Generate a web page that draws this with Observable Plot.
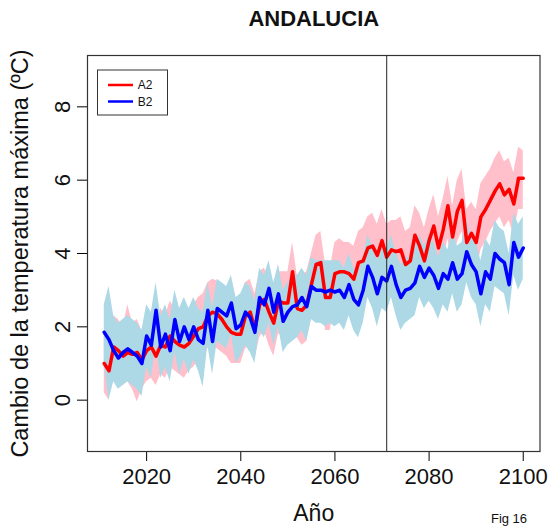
<!DOCTYPE html>
<html>
<head>
<meta charset="utf-8">
<script src="https://cdn.jsdelivr.net/npm/d3@7"></script>
<script src="https://cdn.jsdelivr.net/npm/@observablehq/plot@0.6"></script>
<style>
  html, body { margin: 0; padding: 0; background: #fff; }
  svg { font-family: "Liberation Sans", Arial, Helvetica, sans-serif; }
</style>
</head>
<body>
<div id="chart"></div>
<script>
const title = "ANDALUCIA";
const yLabel = "Cambio de la temperatura máxima (ºC)";
const xLabel = "Año";
const figLabel = "Fig 16";
const seriesNames = ["A2", "B2"];
const xTicks = [2020, 2040, 2060, 2080, 2100];
const yTicks = [0, 2, 4, 6, 8];
const refYear = 2071;
const years = d3.range(2011, 2101);

// A2 scenario (red line) and its range (pink band)
const a2 = [1.0,0.8,1.45,1.35,1.2,1.3,1.25,1.3,1.1,1.35,
  1.45,1.2,1.5,1.45,1.75,1.6,1.5,1.45,1.55,1.75,
  1.95,2.0,2.3,2.4,2.35,2.2,2.0,1.85,1.8,1.8,
  2.3,2.4,1.95,2.6,2.75,2.4,2.1,2.7,2.65,2.65,
  3.5,2.5,2.45,2.6,3.15,3.7,3.75,2.8,2.8,3.45,
  3.5,3.5,3.45,3.3,3.75,3.8,4.15,4.2,3.95,4.35,
  3.9,4.1,4.05,4.1,3.7,3.8,4.5,4.2,3.8,4.35,
  4.75,4.15,4.65,5.3,4.45,5.15,5.45,4.3,4.55,4.3,
  5.0,5.2,5.45,5.7,5.9,5.6,5.75,5.35,6.05,6.05];
const a2Hi = [1.9,1.7,2.3,2.2,2.0,2.6,2.1,2.2,1.9,2.3,
  2.4,2.0,2.5,2.3,2.7,2.5,2.4,2.3,2.4,2.6,
  2.8,2.9,3.2,3.3,3.25,3.0,2.9,2.7,2.7,2.7,
  3.2,3.3,2.9,3.5,3.6,3.3,3.0,3.5,3.5,3.5,
  4.3,3.4,3.4,3.5,4.0,4.5,4.6,3.7,3.6,4.3,
  4.4,4.3,4.3,4.2,4.6,4.7,5.0,5.1,4.8,5.2,
  4.8,4.9,4.9,5.0,4.6,4.7,5.3,5.1,4.7,5.2,
  5.6,5.0,5.5,6.1,5.3,6.0,6.3,5.2,5.4,5.2,
  5.9,6.1,6.3,6.6,6.8,6.5,6.6,6.2,6.9,6.8];
const a2Lo = [0.2,0.0,0.6,0.5,0.4,0.5,0.3,-0.05,0.3,0.5,
  0.6,0.4,0.7,0.6,0.9,0.8,0.7,0.6,0.8,0.9,
  1.1,1.2,1.4,1.5,1.4,1.3,1.2,1.0,1.0,1.0,
  1.4,1.5,1.1,1.7,1.9,1.5,1.2,1.8,1.8,1.8,
  2.6,1.7,1.5,1.6,2.2,2.8,2.9,1.9,1.9,2.6,
  2.6,2.6,2.6,2.4,2.9,2.9,3.3,3.3,3.1,3.5,
  3.0,3.2,3.2,3.2,2.8,2.9,3.6,3.3,2.9,3.5,
  3.9,3.3,3.8,4.4,3.6,4.3,4.6,3.4,3.7,3.4,
  4.1,4.3,4.6,4.8,5.0,4.7,4.9,4.5,5.2,5.2];

// B2 scenario (blue line) and its range (light blue band)
const b2 = [1.85,1.65,1.35,1.15,1.3,1.4,1.3,1.2,1.0,1.75,
  1.5,2.45,1.45,1.8,1.35,2.2,1.6,2.0,1.65,2.0,
  1.65,1.55,2.45,1.6,2.5,2.4,2.3,2.65,1.95,2.05,
  2.4,2.25,1.85,2.8,2.6,3.05,2.4,2.9,2.15,2.4,
  2.55,2.6,2.8,2.55,3.1,3.0,3.0,2.95,3.0,2.95,
  3.0,2.8,3.15,2.75,2.6,3.0,3.65,3.35,2.9,3.35,
  3.25,3.65,3.15,2.8,3.0,3.05,3.2,3.65,3.35,3.6,
  3.4,3.05,3.45,3.3,3.75,3.3,3.45,4.05,3.7,3.5,
  2.9,3.5,3.3,4.0,3.85,3.75,3.15,4.3,3.9,4.15];
const b2Hi = [2.6,3.1,2.3,2.1,2.2,2.3,2.2,2.1,1.9,2.6,
  2.4,3.2,2.3,2.6,2.2,3.0,2.5,2.8,2.5,2.8,
  2.5,2.4,3.2,2.5,3.3,3.2,3.1,3.4,2.8,2.9,
  3.2,3.1,2.7,3.6,3.4,3.8,3.2,3.7,3.0,3.2,
  3.4,3.4,3.6,3.4,3.9,3.8,3.8,3.8,3.8,3.8,
  3.8,3.6,4.0,3.6,3.5,3.9,4.5,4.2,3.8,4.2,
  4.1,4.5,4.0,3.7,3.9,3.9,4.1,4.5,4.2,4.5,
  4.3,3.9,4.3,4.1,4.6,4.2,4.3,4.9,4.5,4.3,
  3.8,4.4,4.2,4.9,4.7,4.6,4.0,5.1,4.8,5.0];
const b2Lo = [1.0,0.0,0.5,0.3,0.4,0.5,0.4,0.3,0.1,0.9,
  0.6,1.5,0.6,0.9,0.5,1.3,0.7,1.1,0.7,1.1,
  0.8,0.35,1.5,0.7,1.6,1.5,1.4,1.8,1.0,1.2,
  1.5,1.3,1.0,1.9,1.7,2.1,1.5,2.0,1.3,1.5,
  1.6,1.7,1.9,1.6,2.2,2.1,2.1,2.0,2.1,2.0,
  2.1,1.9,2.3,1.9,1.7,2.1,2.8,2.5,2.0,2.5,
  2.4,2.8,2.3,1.9,2.1,2.2,2.3,2.8,2.5,2.7,
  2.5,2.2,2.6,2.4,2.9,2.4,2.6,3.2,2.8,2.6,
  2.0,2.6,2.4,3.1,3.0,2.9,2.3,3.4,3.0,3.3];

const colors = {A2: "#ff0000", B2: "#0000ff"};
const bandColors = {A2: "#ffc0cb", B2: "#add8e6"};

const rows = [];
years.forEach((yr, i) => {
  rows.push({year: yr, s: "A2", v: a2[i], lo: a2Lo[i], hi: a2Hi[i]});
  rows.push({year: yr, s: "B2", v: b2[i], lo: b2Lo[i], hi: b2Hi[i]});
});
const A = rows.filter(d => d.s === "A2");
const B = rows.filter(d => d.s === "B2");

const W = 549, H = 528;
const chart = Plot.plot({
  width: W,
  height: H,
  marginLeft: 87,
  marginRight: 9.5,
  marginTop: 55,
  marginBottom: 77,
  style: {background: "#fff", fontFamily: "Liberation Sans, Arial, sans-serif", color: "#000"},
  x: {domain: [2007.44, 2103.56], ticks: xTicks, tickSize: 10, tickFormat: () => "", label: null},
  y: {domain: [-1.4, 9.4], ticks: yTicks, tickSize: 10, tickFormat: () => "", label: null},
  marks: [
    Plot.areaY(A, {x: "year", y1: "lo", y2: "hi", fill: bandColors.A2, curve: "linear"}),
    Plot.areaY(B, {x: "year", y1: "lo", y2: "hi", fill: bandColors.B2, curve: "linear"}),
    Plot.line(A, {x: "year", y: "v", stroke: colors.A2, strokeWidth: 3.5, strokeLinejoin: "round"}),
    Plot.line(B, {x: "year", y: "v", stroke: colors.B2, strokeWidth: 3.5, strokeLinejoin: "round"}),
    Plot.ruleX([refYear], {stroke: "#222", strokeWidth: 1}),
    Plot.frame({stroke: "#333", strokeWidth: 1.2}),
    Plot.text(xTicks, {x: d => d, text: d => String(d), frameAnchor: "bottom", dy: 25, fontSize: 22, textAnchor: "middle", lineAnchor: "middle", fill: "#111"}),
    Plot.text(yTicks, {y: d => d, text: d => String(d), frameAnchor: "left", dx: -25, rotate: -90, fontSize: 22, textAnchor: "middle", lineAnchor: "middle", fill: "#111"}),
    Plot.text([title], {text: d => d, frameAnchor: "top", dy: -37, fontSize: 22, fontWeight: "bold", textAnchor: "middle", lineAnchor: "middle", fill: "#111"}),
    Plot.text([yLabel], {text: d => d, frameAnchor: "left", dx: -67, rotate: -90, fontSize: 23.5, textAnchor: "middle", lineAnchor: "middle", fill: "#111"}),
    Plot.text([xLabel], {text: d => d, frameAnchor: "bottom", dy: 62, fontSize: 23, textAnchor: "middle", lineAnchor: "middle", fill: "#111"}),
    Plot.text([figLabel], {text: d => d, frameAnchor: "bottom-right", dx: -31, dy: 67, fontSize: 13, textAnchor: "middle", lineAnchor: "middle", fill: "#111"})
  ]
});

// Legend box (top-left, inside plot)
const svg = d3.select(chart);
const lg = svg.append("g").attr("class", "legend");
lg.append("rect").attr("x", 97.5).attr("y", 70).attr("width", 70).attr("height", 45)
  .attr("fill", "#fff").attr("stroke", "#333").attr("stroke-width", 1);
seriesNames.forEach((name, i) => {
  const yy = 85 + i * 16.5;
  lg.append("line").attr("x1", 108).attr("x2", 133).attr("y1", yy).attr("y2", yy)
    .attr("stroke", colors[name]).attr("stroke-width", 2.5);
  lg.append("text").attr("x", 145).attr("y", yy).attr("dy", "0.35em")
    .attr("font-size", 12).attr("fill", "#111").text(name);
});

document.getElementById("chart").appendChild(chart);
</script>
</body>
</html>
